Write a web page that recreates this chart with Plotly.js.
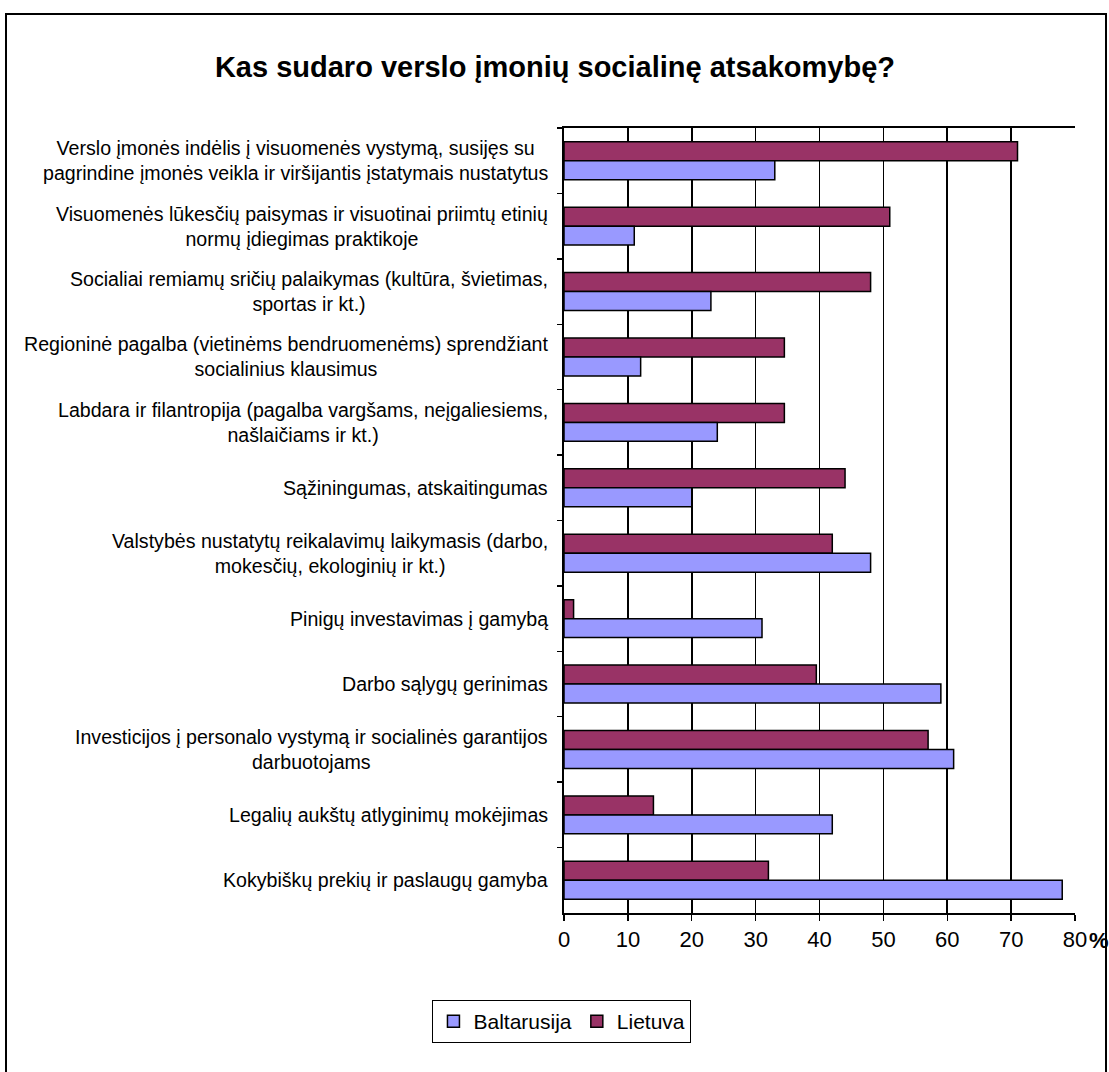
<!DOCTYPE html>
<html>
<head>
<meta charset="utf-8">
<script src="https://cdn.plot.ly/plotly-3.0.1.min.js"></script>
<style>
  html, body { margin: 0; padding: 0; background: #fff; }
  #chart { width: 1109px; height: 1072px; }
</style>
</head>
<body>
<div id="chart"></div>
<script>
// Categories, top to bottom as shown in the chart
const categories = [
  "Verslo įmonės indėlis į visuomenės vystymą, susijęs su<br>pagrindine įmonės veikla ir viršijantis įstatymais nustatytus",
  "Visuomenės lūkesčių paisymas ir visuotinai priimtų etinių<br>normų įdiegimas praktikoje",
  "Socialiai remiamų sričių palaikymas (kultūra, švietimas,<br>sportas ir kt.)",
  "Regioninė pagalba (vietinėms bendruomenėms) sprendžiant<br>socialinius klausimus",
  "Labdara ir filantropija (pagalba vargšams, neįgaliesiems,<br>našlaičiams ir kt.)",
  "Sąžiningumas, atskaitingumas",
  "Valstybės nustatytų reikalavimų laikymasis (darbo,<br>mokesčių, ekologinių ir kt.)",
  "Pinigų investavimas į gamybą",
  "Darbo sąlygų gerinimas",
  "Investicijos į personalo vystymą ir socialinės garantijos<br>darbuotojams",
  "Legalių aukštų atlyginimų mokėjimas",
  "Kokybiškų prekių ir paslaugų gamyba"
];
const lietuva     = [71, 51, 48, 34.5, 34.5, 44, 42, 1.5, 39.5, 57, 14, 32];
const baltarusija = [33, 11, 23, 12, 24, 20, 48, 31, 59, 61, 42, 78];
const xTicks = [0, 10, 20, 30, 40, 50, 60, 70, 80];
const seriesNames = ["Lietuva", "Baltarusija"];
const titleText = "Kas sudaro verslo įmonių socialinę atsakomybę?";
const unitLabel = "%";

const FONT = "Liberation Sans, Arial, sans-serif";

const traces = [
  {
    type: "bar", orientation: "h", name: seriesNames[0],
    y: categories, x: lietuva,
    marker: { color: "#993366", line: { color: "#000", width: 1.5 } },
    hoverinfo: "x"
  },
  {
    type: "bar", orientation: "h", name: seriesNames[1],
    y: categories, x: baltarusija,
    marker: { color: "#9999FF", line: { color: "#000", width: 1.5 } },
    hoverinfo: "x"
  }
];

const annotations = categories.map(c => ({
  xref: "paper", yref: "y", x: 0, y: c, xshift: -14,
  xanchor: "right", yanchor: "middle", align: "center",
  text: c, showarrow: false,
  font: { family: FONT, size: 19.6, color: "#000" }
}));
annotations.push({
  xref: "paper", yref: "paper", x: 1, y: 0, xshift: 12, yshift: -27,
  xanchor: "left", yanchor: "middle", text: "<b>" + unitLabel + "</b>",
  showarrow: false, font: { family: FONT, size: 22, color: "#000" }
});

const layout = {
  width: 1109, height: 1072,
  paper_bgcolor: "#fff", plot_bgcolor: "#fff",
  margin: { l: 564, r: 34, t: 128, b: 159, pad: 0 },
  title: {
    text: "<b>" + titleText + "</b>",
    x: 555 / 1109, xref: "container", xanchor: "center",
    y: 1 - 67 / 1072, yref: "container", yanchor: "middle",
    font: { family: FONT, size: 29, color: "#000" }
  },
  barmode: "group", bargap: 0.42, bargroupgap: 0,
  xaxis: {
    range: [0, 80], tickvals: xTicks, ticktext: xTicks.map(String),
    showgrid: true, gridcolor: "#000", gridwidth: 1.6,
    showline: true, linecolor: "#000", linewidth: 1.6, mirror: true,
    ticks: "outside", ticklen: 6, tickcolor: "#000", tickwidth: 1.4,
    tickfont: { family: FONT, size: 22, color: "#000" },
    zeroline: false, fixedrange: true
  },
  yaxis: {
    type: "category", autorange: "reversed",
    showticklabels: false, tickson: "boundaries",
    ticks: "outside", ticklen: 5, tickcolor: "#000", tickwidth: 1.4,
    showline: true, linecolor: "#000", linewidth: 1.6,
    showgrid: false, zeroline: false, fixedrange: true
  },
  legend: {
    orientation: "h", traceorder: "reversed",
    x: -0.004, xanchor: "center", y: -0.111, yanchor: "top",
    bordercolor: "#000", borderwidth: 1, bgcolor: "#fff",
    font: { family: FONT, size: 21, color: "#000" },
    itemwidth: 30
  },
  annotations: annotations,
  shapes: [{
    type: "rect", xref: "paper", yref: "paper",
    x0: (6 - 564) / 511, x1: (1106 - 564) / 511,
    y0: -0.25, y1: (913 - 14) / 785,
    line: { color: "#000", width: 2 }, fillcolor: "rgba(0,0,0,0)", layer: "below"
  }],
  showlegend: true
};

Plotly.newPlot("chart", traces, layout, { displayModeBar: false, staticPlot: true });
</script>
</body>
</html>
